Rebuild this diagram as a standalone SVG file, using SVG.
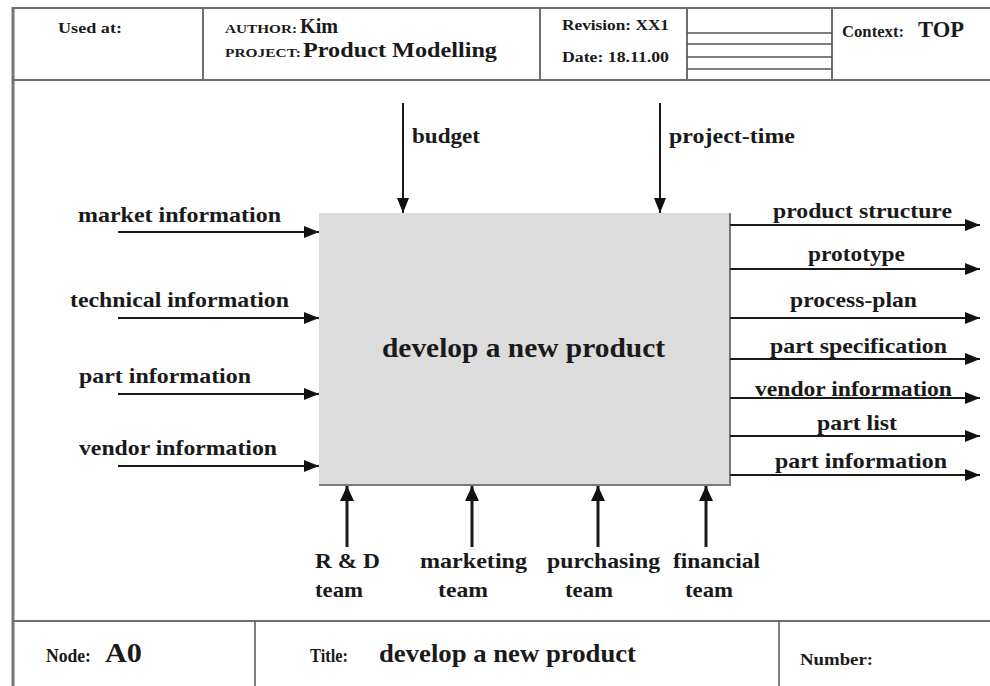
<svg xmlns="http://www.w3.org/2000/svg" width="990" height="686" viewBox="0 0 990 686">
<style>
.t{font-family:"Liberation Serif","Times New Roman",serif;font-weight:bold;fill:#1a1a1a}
.l{font-size:22px}
.frame{stroke:#6e6e6e;stroke-width:2;fill:none}
.thin{stroke:#555;stroke-width:1.5;fill:none}
.c{stroke:#1a1a1a;stroke-width:2;fill:none}
.m{stroke:#1a1a1a;stroke-width:3;fill:none}
</style>
<defs>
<marker id="ah" markerUnits="userSpaceOnUse" markerWidth="16" markerHeight="12" refX="15" refY="6" orient="auto">
<path d="M0,0 L15,6 L0,12 Z" fill="#111"/>
</marker>
<marker id="ahm" markerUnits="userSpaceOnUse" markerWidth="16" markerHeight="14" refX="15" refY="7" orient="auto">
<path d="M0,0 L15,7 L0,14 Z" fill="#111"/>
</marker>
</defs>
<rect width="990" height="686" fill="#fff"/>
<g id="frame">
<line x1="13" y1="7" x2="13" y2="686" stroke="#777" stroke-width="3"/>
<line x1="12" y1="8" x2="990" y2="8" class="frame"/>
<line x1="12" y1="80" x2="990" y2="80" class="frame"/>
<line x1="12" y1="621" x2="990" y2="621" class="frame"/>
<line x1="203" y1="8" x2="203" y2="80" class="frame"/>
<line x1="540" y1="8" x2="540" y2="80" class="frame"/>
<line x1="687" y1="8" x2="687" y2="80" class="frame"/>
<line x1="832" y1="8" x2="832" y2="80" class="frame"/>
<line x1="687" y1="33" x2="832" y2="33" class="thin"/>
<line x1="687" y1="44" x2="832" y2="44" class="thin"/>
<line x1="687" y1="57" x2="832" y2="57" class="thin"/>
<line x1="687" y1="69" x2="832" y2="69" class="thin"/>
<line x1="255" y1="621" x2="255" y2="686" class="thin"/>
<line x1="779" y1="621" x2="779" y2="686" class="thin"/>
</g>
<g id="header">
<text class="t" x="58" y="33" font-size="15" textLength="64" lengthAdjust="spacingAndGlyphs">Used at:</text>
<text class="t" x="225" y="33" font-size="12" textLength="72" lengthAdjust="spacingAndGlyphs">AUTHOR:</text>
<text class="t" x="300" y="33" font-size="20" textLength="38" lengthAdjust="spacingAndGlyphs">Kim</text>
<text class="t" x="225" y="57" font-size="12" textLength="76" lengthAdjust="spacingAndGlyphs">PROJECT:</text>
<text class="t" x="303" y="57" font-size="22" textLength="194" lengthAdjust="spacingAndGlyphs">Product Modelling</text>
<text class="t" x="562" y="30" font-size="15" textLength="107" lengthAdjust="spacingAndGlyphs">Revision: XX1</text>
<text class="t" x="562" y="62" font-size="15" textLength="107" lengthAdjust="spacingAndGlyphs">Date: 18.11.00</text>
<text class="t" x="842" y="37" font-size="16" textLength="62" lengthAdjust="spacingAndGlyphs">Context:</text>
<text class="t" x="918" y="37" font-size="24" textLength="46" lengthAdjust="spacingAndGlyphs">TOP</text>
</g>
<g id="footer">
<text class="t" x="46" y="662" font-size="19" textLength="45" lengthAdjust="spacingAndGlyphs">Node:</text>
<text class="t" x="105" y="662" font-size="27" textLength="37" lengthAdjust="spacingAndGlyphs">A0</text>
<text class="t" x="310" y="662" font-size="18" textLength="38" lengthAdjust="spacingAndGlyphs">Title:</text>
<text class="t" x="379" y="662" font-size="26" textLength="257" lengthAdjust="spacingAndGlyphs">develop a new product</text>
<text class="t" x="800" y="665" font-size="17" textLength="73" lengthAdjust="spacingAndGlyphs">Number:</text>
</g>
<g id="A0">
<rect x="319" y="213" width="411" height="272" fill="#dcdcdc"/>
<polyline points="730,213 730,485 319,485" stroke="#7a7a7a" stroke-width="2" fill="none"/>
<text class="t" x="382" y="357" font-size="27" textLength="283" lengthAdjust="spacingAndGlyphs">develop a new product</text>
</g>
<g id="connectors">
<line x1="403" y1="103" x2="403" y2="213" class="c" marker-end="url(#ah)"/>
<line x1="660" y1="103" x2="660" y2="213" class="c" marker-end="url(#ah)"/>
<line x1="118" y1="232" x2="319" y2="232" class="c" marker-end="url(#ah)"/>
<line x1="118" y1="318" x2="319" y2="318" class="c" marker-end="url(#ah)"/>
<line x1="118" y1="394" x2="319" y2="394" class="c" marker-end="url(#ah)"/>
<line x1="118" y1="466" x2="319" y2="466" class="c" marker-end="url(#ah)"/>
<line x1="730" y1="225" x2="980" y2="225" class="c" marker-end="url(#ah)"/>
<line x1="730" y1="269" x2="980" y2="269" class="c" marker-end="url(#ah)"/>
<line x1="730" y1="318" x2="980" y2="318" class="c" marker-end="url(#ah)"/>
<line x1="730" y1="359" x2="980" y2="359" class="c" marker-end="url(#ah)"/>
<line x1="730" y1="398" x2="980" y2="398" class="c" marker-end="url(#ah)"/>
<line x1="730" y1="436" x2="980" y2="436" class="c" marker-end="url(#ah)"/>
<line x1="730" y1="475" x2="980" y2="475" class="c" marker-end="url(#ah)"/>
<line x1="347" y1="547" x2="347" y2="486" class="m" marker-end="url(#ahm)"/>
<line x1="472" y1="547" x2="472" y2="486" class="m" marker-end="url(#ahm)"/>
<line x1="598" y1="547" x2="598" y2="486" class="m" marker-end="url(#ahm)"/>
<line x1="706" y1="547" x2="706" y2="486" class="m" marker-end="url(#ahm)"/>
</g>
<g id="labels">
<text class="t l" x="412" y="143" textLength="68" lengthAdjust="spacingAndGlyphs">budget</text>
<text class="t l" x="669" y="143" textLength="126" lengthAdjust="spacingAndGlyphs">project-time</text>
<text class="t l" x="78" y="222" textLength="203" lengthAdjust="spacingAndGlyphs">market information</text>
<text class="t l" x="70" y="307" textLength="219" lengthAdjust="spacingAndGlyphs">technical information</text>
<text class="t l" x="79" y="383" textLength="172" lengthAdjust="spacingAndGlyphs">part information</text>
<text class="t l" x="79" y="455" textLength="198" lengthAdjust="spacingAndGlyphs">vendor information</text>
<text class="t l" x="773" y="218" textLength="179" lengthAdjust="spacingAndGlyphs">product structure</text>
<text class="t l" x="808" y="261" textLength="97" lengthAdjust="spacingAndGlyphs">prototype</text>
<text class="t l" x="790" y="307" textLength="127" lengthAdjust="spacingAndGlyphs">process-plan</text>
<text class="t l" x="770" y="353" textLength="177" lengthAdjust="spacingAndGlyphs">part specification</text>
<text class="t l" x="755" y="396" textLength="197" lengthAdjust="spacingAndGlyphs">vendor information</text>
<text class="t l" x="817" y="430" textLength="80" lengthAdjust="spacingAndGlyphs">part list</text>
<text class="t l" x="775" y="468" textLength="172" lengthAdjust="spacingAndGlyphs">part information</text>
<text class="t l" x="315" y="568" textLength="65" lengthAdjust="spacingAndGlyphs">R &amp; D</text>
<text class="t l" x="315" y="597" textLength="48" lengthAdjust="spacingAndGlyphs">team</text>
<text class="t l" x="420" y="568" textLength="107" lengthAdjust="spacingAndGlyphs">marketing</text>
<text class="t l" x="438" y="597" textLength="50" lengthAdjust="spacingAndGlyphs">team</text>
<text class="t l" x="547" y="568" textLength="113" lengthAdjust="spacingAndGlyphs">purchasing</text>
<text class="t l" x="565" y="597" textLength="48" lengthAdjust="spacingAndGlyphs">team</text>
<text class="t l" x="673" y="568" textLength="87" lengthAdjust="spacingAndGlyphs">financial</text>
<text class="t l" x="685" y="597" textLength="48" lengthAdjust="spacingAndGlyphs">team</text>
</g>
</svg>
